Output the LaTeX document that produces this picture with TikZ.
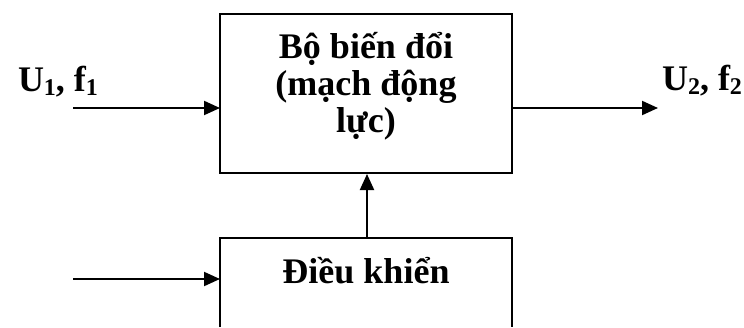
\documentclass[tikz,border=0pt]{standalone}
\usepackage{fontspec}
\setmainfont{Liberation Serif}
\usetikzlibrary{arrows.meta}
\newcommand{\subsc}[1]{\raisebox{-0.1em}{\fontsize{24}{24}\selectfont #1}}
\begin{document}
\begin{tikzpicture}[x=1pt,y=1pt,
  line width=2pt,
  arr/.style={-{Triangle[length=16pt,width=14pt]}},
  txt/.style={font=\fontsize{36}{37}\selectfont\bfseries, inner sep=0pt, anchor=base}
]
\useasboundingbox (0,0) rectangle (744,327);
% main box
\node[draw, minimum width=292pt, minimum height=159pt, inner sep=0pt] (conv) at (366,233.5) {};
\node[txt] (t1) at (366,268) {Bộ biến đổi};
\node[txt] (t2) at (366,231) {(mạch động};
\node[txt] (t3) at (366,194) {lực)};
% control box (open at the bottom edge)
\coordinate (cbl) at (220,0);
\coordinate (cbr) at (512,0);
\coordinate (ctl) at (220,89);
\coordinate (ctr) at (512,89);
\coordinate (ctop) at (367,89);
\draw (cbl) -- (ctl) -- (ctr) -- (cbr);
\node[txt] (ctrl) at (366,44) {Điều khiển};
% inputs / outputs
\coordinate (in1) at (73,219);
\coordinate (in1e) at (220,219);
\coordinate (out1) at (512,219);
\coordinate (out1e) at (658,219);
\coordinate (in2) at (73,48);
\coordinate (in2e) at (220,48);
\draw[arr] (in1) -- (in1e);
\draw[arr] (out1) -- (out1e);
\draw[arr] (in2) -- (in2e);
\draw[arr] (ctop) -- (ctop |- conv.south);
% labels
\node[txt, anchor=base west] (lin) at (17,235) {U\subsc{1}, f\subsc{1}};
\node[txt, anchor=base west] (lout) at (661,236) {U\subsc{2}, f\subsc{2}};
\end{tikzpicture}
\end{document}
